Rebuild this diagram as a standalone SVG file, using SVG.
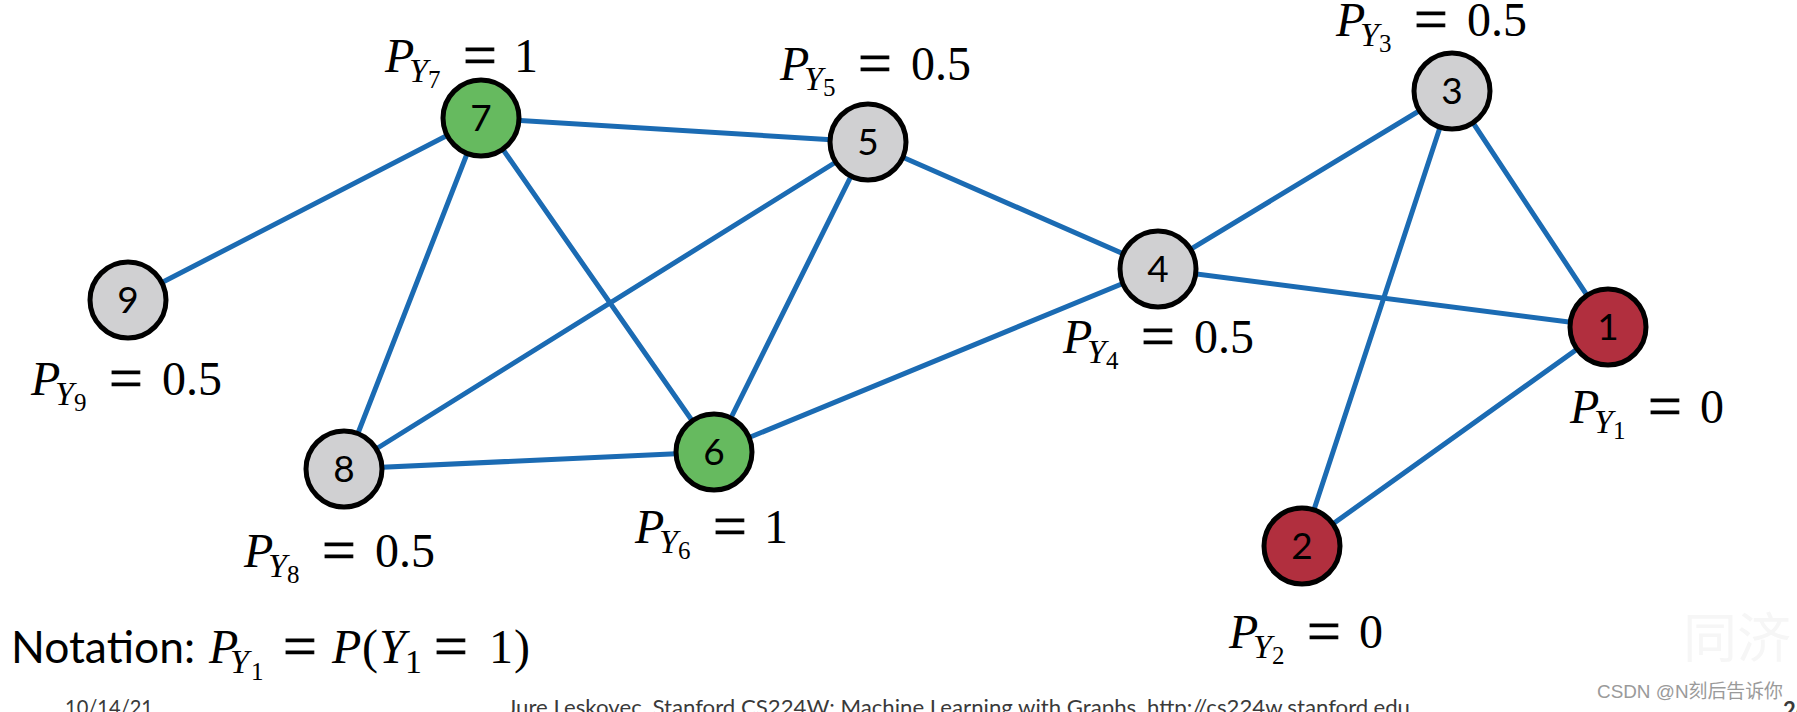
<svg xmlns="http://www.w3.org/2000/svg" width="1797" height="712" viewBox="0 0 1797 712">
<style>
.bg{fill:#ffffff}
.e{stroke:#1b6bb3;stroke-width:5;fill:none;stroke-linecap:round}
.n{stroke:#000;stroke-width:5}
.gray{fill:#d0d0d2}
.green{fill:#66ba5f}
.red{fill:#b12f3e}
.num{font-family:Lato,"Liberation Sans",sans-serif;font-size:37px;fill:#000;text-anchor:middle}
.m{font-family:"Liberation Serif",serif;font-size:48px;fill:#000}
.i{font-style:italic}
.s1{font-size:34px}
.s2{font-size:25px}
.eq{font-size:60px;stroke:#000;stroke-width:0.8}
.sans{font-family:Lato,"Liberation Sans",sans-serif;fill:#000}
.foot{font-family:Lato,"Liberation Sans",sans-serif;font-size:22px;fill:#3a3a3a}
</style>
<rect class="bg" x="0" y="0" width="1797" height="712"/>
<g id="connectors">
<line class="e" x1="481" y1="118" x2="128" y2="300"/>
<line class="e" x1="481" y1="118" x2="868" y2="142"/>
<line class="e" x1="481" y1="118" x2="344" y2="469"/>
<line class="e" x1="481" y1="118" x2="714" y2="452"/>
<line class="e" x1="868" y1="142" x2="344" y2="469"/>
<line class="e" x1="868" y1="142" x2="714" y2="452"/>
<line class="e" x1="868" y1="142" x2="1158" y2="269"/>
<line class="e" x1="344" y1="469" x2="714" y2="452"/>
<line class="e" x1="714" y1="452" x2="1158" y2="269"/>
<line class="e" x1="1158" y1="269" x2="1452" y2="91"/>
<line class="e" x1="1158" y1="269" x2="1608" y2="327"/>
<line class="e" x1="1452" y1="91" x2="1608" y2="327"/>
<line class="e" x1="1452" y1="91" x2="1302" y2="546"/>
<line class="e" x1="1608" y1="327" x2="1302" y2="546"/>
</g>
<g id="node7">
<circle class="n green" cx="481" cy="118" r="38"/>
<text class="num" x="481" y="131">7</text>
<text class="m"><tspan class="i" x="385" y="72">P</tspan><tspan class="i s1" x="409" y="82">Y</tspan><tspan class="s2" x="428" y="88">7</tspan><tspan class="eq" x="463" y="75">=</tspan><tspan x="514" y="72">1</tspan></text>
</g>
<g id="node5">
<circle class="n gray" cx="868" cy="142" r="38"/>
<text class="num" x="868" y="155">5</text>
<text class="m"><tspan class="i" x="780" y="80">P</tspan><tspan class="i s1" x="804" y="90">Y</tspan><tspan class="s2" x="823" y="96">5</tspan><tspan class="eq" x="858" y="83">=</tspan><tspan x="911" y="80">0.5</tspan></text>
</g>
<g id="node3">
<circle class="n gray" cx="1452" cy="91" r="38"/>
<text class="num" x="1452" y="104">3</text>
<text class="m"><tspan class="i" x="1336" y="36">P</tspan><tspan class="i s1" x="1360" y="46">Y</tspan><tspan class="s2" x="1379" y="52">3</tspan><tspan class="eq" x="1414" y="39">=</tspan><tspan x="1467" y="36">0.5</tspan></text>
</g>
<g id="node9">
<circle class="n gray" cx="128" cy="300" r="38"/>
<text class="num" x="128" y="313">9</text>
<text class="m"><tspan class="i" x="31" y="395">P</tspan><tspan class="i s1" x="55" y="405">Y</tspan><tspan class="s2" x="74" y="411">9</tspan><tspan class="eq" x="109" y="398">=</tspan><tspan x="162" y="395">0.5</tspan></text>
</g>
<g id="node8">
<circle class="n gray" cx="344" cy="469" r="38"/>
<text class="num" x="344" y="482">8</text>
<text class="m"><tspan class="i" x="244" y="567">P</tspan><tspan class="i s1" x="268" y="577">Y</tspan><tspan class="s2" x="287" y="583">8</tspan><tspan class="eq" x="322" y="570">=</tspan><tspan x="375" y="567">0.5</tspan></text>
</g>
<g id="node6">
<circle class="n green" cx="714" cy="452" r="38"/>
<text class="num" x="714" y="465">6</text>
<text class="m"><tspan class="i" x="635" y="543">P</tspan><tspan class="i s1" x="659" y="553">Y</tspan><tspan class="s2" x="678" y="559">6</tspan><tspan class="eq" x="713" y="546">=</tspan><tspan x="764" y="543">1</tspan></text>
</g>
<g id="node4">
<circle class="n gray" cx="1158" cy="269" r="38"/>
<text class="num" x="1158" y="282">4</text>
<text class="m"><tspan class="i" x="1063" y="353">P</tspan><tspan class="i s1" x="1087" y="363">Y</tspan><tspan class="s2" x="1106" y="369">4</tspan><tspan class="eq" x="1141" y="356">=</tspan><tspan x="1194" y="353">0.5</tspan></text>
</g>
<g id="node1">
<circle class="n red" cx="1608" cy="327" r="38"/>
<text class="num" x="1608" y="340">1</text>
<text class="m"><tspan class="i" x="1570" y="423">P</tspan><tspan class="i s1" x="1594" y="433">Y</tspan><tspan class="s2" x="1613" y="439">1</tspan><tspan class="eq" x="1648" y="426">=</tspan><tspan x="1700" y="423">0</tspan></text>
</g>
<g id="node2">
<circle class="n red" cx="1302" cy="546" r="38"/>
<text class="num" x="1302" y="559">2</text>
<text class="m"><tspan class="i" x="1229" y="648">P</tspan><tspan class="i s1" x="1253" y="658">Y</tspan><tspan class="s2" x="1272" y="664">2</tspan><tspan class="eq" x="1307" y="651">=</tspan><tspan x="1359" y="648">0</tspan></text>
</g>
<g id="notation">
<text class="sans" x="11" y="663" font-size="44" textLength="184" lengthAdjust="spacingAndGlyphs">Notation:</text>
<text class="m"><tspan class="i" x="209" y="663">P</tspan><tspan class="i s1" x="230" y="673">Y</tspan><tspan class="s2" x="251" y="680">1</tspan><tspan class="eq" x="283" y="666">=</tspan><tspan class="i" x="332" y="663">P</tspan><tspan x="362" y="663">(</tspan><tspan class="i" x="379" y="663">Y</tspan><tspan class="s1" x="405" y="673">1</tspan><tspan class="eq" x="434" y="666">=</tspan><tspan x="489" y="663">1</tspan><tspan x="514" y="663">)</tspan></text>
</g>
<g id="footer">
<text class="foot" x="65" y="715" textLength="88" lengthAdjust="spacingAndGlyphs">10/14/21</text>
<text class="foot" x="507" y="715" textLength="903" lengthAdjust="spacingAndGlyphs">Jure Leskovec, Stanford CS224W: Machine Learning with Graphs, http://cs224w.stanford.edu</text>
<text class="foot" x="1783" y="718" font-weight="bold" fill="#000">26</text>
<text x="1683" y="658" font-family="'Noto Sans CJK SC',sans-serif" font-size="54" fill="#f6f6f6">同济</text>
<text x="1597" y="698" font-family="'Liberation Sans','Noto Sans CJK SC',sans-serif" font-size="19" fill="#9a9a9a" textLength="186" lengthAdjust="spacingAndGlyphs">CSDN @N刻后告诉你</text>
</g>
</svg>
